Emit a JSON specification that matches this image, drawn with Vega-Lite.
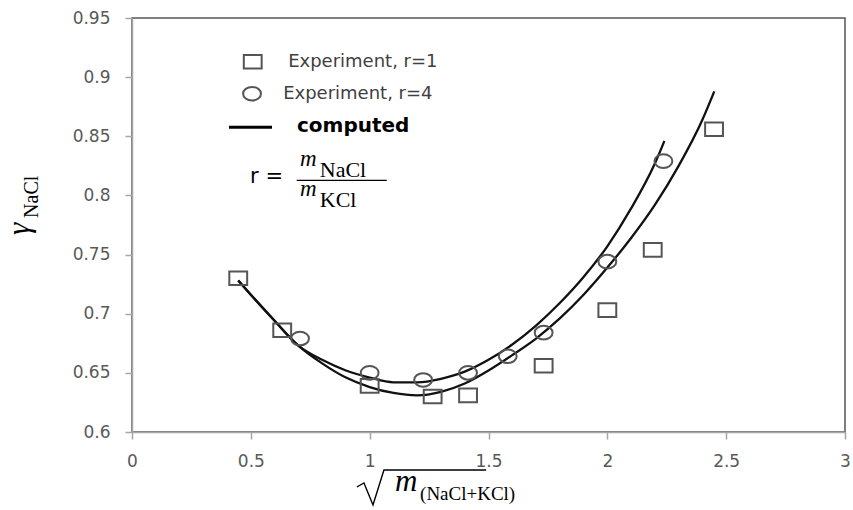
{
  "$schema": "https://vega.github.io/schema/vega-lite/v6.json",
  "width": 713,
  "height": 414,
  "autosize": {"type": "none"},
  "padding": {"left": 132, "top": 18, "right": 8, "bottom": 78},
  "background": "white",
  "config": {
    "view": {"stroke": "#555555", "strokeWidth": 1.5},
    "axis": {
      "grid": false,
      "domainColor": "#a6a6a6",
      "domainWidth": 1.5,
      "tickColor": "#a6a6a6",
      "tickWidth": 1.5,
      "tickSize": 7,
      "labelFont": "DejaVu Sans",
      "labelFontSize": 17,
      "labelColor": "#595959",
      "labelFlush": false
    }
  },
  "encoding": {
    "x": {
      "field": "x", "type": "quantitative",
      "scale": {"domain": [0, 3], "nice": false, "zero": false},
      "axis": {"title": null, "values": [0, 0.5, 1, 1.5, 2, 2.5, 3], "format": "~g", "labelPadding": 14, "labelFlush": false, "labelOverlap": false}
    },
    "y": {
      "field": "y", "type": "quantitative",
      "scale": {"domain": [0.6, 0.95], "nice": false, "zero": false},
      "axis": {"title": null, "values": [0.6, 0.65, 0.7, 0.75, 0.8, 0.85, 0.9, 0.95], "format": "~g", "labelPadding": 15}
    }
  },
  "layer": [
    {
      "data": {"values": [
        {"series": "r=1", "x": 0.447, "y": 0.728},
        {"series": "r=1", "x": 0.5, "y": 0.716},
        {"series": "r=1", "x": 0.6, "y": 0.694},
        {"series": "r=1", "x": 0.7, "y": 0.673},
        {"series": "r=1", "x": 0.8, "y": 0.658},
        {"series": "r=1", "x": 0.9, "y": 0.646},
        {"series": "r=1", "x": 1.0, "y": 0.638},
        {"series": "r=1", "x": 1.1, "y": 0.633},
        {"series": "r=1", "x": 1.2, "y": 0.631},
        {"series": "r=1", "x": 1.3, "y": 0.634},
        {"series": "r=1", "x": 1.4, "y": 0.641},
        {"series": "r=1", "x": 1.5, "y": 0.652},
        {"series": "r=1", "x": 1.6, "y": 0.665},
        {"series": "r=1", "x": 1.7, "y": 0.679},
        {"series": "r=1", "x": 1.8, "y": 0.696},
        {"series": "r=1", "x": 1.9, "y": 0.716},
        {"series": "r=1", "x": 2.0, "y": 0.739},
        {"series": "r=1", "x": 2.1, "y": 0.764},
        {"series": "r=1", "x": 2.2, "y": 0.792},
        {"series": "r=1", "x": 2.3, "y": 0.825},
        {"series": "r=1", "x": 2.4, "y": 0.864},
        {"series": "r=1", "x": 2.45, "y": 0.888},
        {"series": "r=4", "x": 0.447, "y": 0.728},
        {"series": "r=4", "x": 0.5, "y": 0.716},
        {"series": "r=4", "x": 0.6, "y": 0.694},
        {"series": "r=4", "x": 0.7, "y": 0.673},
        {"series": "r=4", "x": 0.8, "y": 0.661},
        {"series": "r=4", "x": 0.9, "y": 0.652},
        {"series": "r=4", "x": 1.0, "y": 0.646},
        {"series": "r=4", "x": 1.1, "y": 0.642},
        {"series": "r=4", "x": 1.2, "y": 0.642},
        {"series": "r=4", "x": 1.3, "y": 0.645},
        {"series": "r=4", "x": 1.4, "y": 0.651},
        {"series": "r=4", "x": 1.5, "y": 0.661},
        {"series": "r=4", "x": 1.6, "y": 0.674},
        {"series": "r=4", "x": 1.7, "y": 0.69},
        {"series": "r=4", "x": 1.8, "y": 0.709},
        {"series": "r=4", "x": 1.9, "y": 0.731},
        {"series": "r=4", "x": 2.0, "y": 0.757},
        {"series": "r=4", "x": 2.1, "y": 0.789},
        {"series": "r=4", "x": 2.2, "y": 0.827},
        {"series": "r=4", "x": 2.24, "y": 0.846}
      ]},
      "mark": {"type": "line", "color": "#111111", "strokeWidth": 2.3, "interpolate": "monotone"},
      "encoding": {"detail": {"field": "series"}}
    },
    {
      "data": {"values": [
        {"series": "r=1", "x": 0.447, "y": 0.73},
        {"series": "r=1", "x": 0.632, "y": 0.686},
        {"series": "r=1", "x": 1.0, "y": 0.639},
        {"series": "r=1", "x": 1.265, "y": 0.63},
        {"series": "r=1", "x": 1.414, "y": 0.631},
        {"series": "r=1", "x": 1.732, "y": 0.656},
        {"series": "r=1", "x": 2.0, "y": 0.703},
        {"series": "r=1", "x": 2.191, "y": 0.754},
        {"series": "r=1", "x": 2.449, "y": 0.856},
        {"series": "r=4", "x": 0.707, "y": 0.679},
        {"series": "r=4", "x": 1.0, "y": 0.65},
        {"series": "r=4", "x": 1.225, "y": 0.644},
        {"series": "r=4", "x": 1.414, "y": 0.65},
        {"series": "r=4", "x": 1.581, "y": 0.664},
        {"series": "r=4", "x": 1.732, "y": 0.684},
        {"series": "r=4", "x": 2.0, "y": 0.744},
        {"series": "r=4", "x": 2.236, "y": 0.829},
        {"series": "r=1", "x": 0.508, "y": 0.913},
        {"series": "r=4", "x": 0.505, "y": 0.886}
      ]},
      "mark": {"type": "point", "filled": false, "stroke": "#555555", "strokeWidth": 2, "size": 289, "opacity": 1},
      "encoding": {
        "shape": {
          "field": "series", "type": "nominal", "legend": null,
          "scale": {"domain": ["r=1", "r=4"], "range": ["M-1.05,-0.8L1.05,-0.8L1.05,0.8L-1.05,0.8Z", "M-1.05,0A1.05,0.8,0,1,0,1.05,0A1.05,0.8,0,1,0,-1.05,0Z"]}
        }
      }
    },
    {
      "data": {"values": [{"x": 0.408, "x2": 0.589, "y": 0.8576}]},
      "mark": {"type": "rule", "color": "#000000", "strokeWidth": 3},
      "encoding": {"x2": {"field": "x2"}}
    },
    {
      "data": {"values": [{"x": 0.693, "x2": 1.072, "y": 0.8128}]},
      "mark": {"type": "rule", "color": "#000000", "strokeWidth": 1.3},
      "encoding": {"x2": {"field": "x2"}}
    },
    {
      "data": {"values": [
        {"x": 0.946, "y": 0.5535},
        {"x": 0.976, "y": 0.5569},
        {"x": 1.014, "y": 0.5383},
        {"x": 1.06, "y": 0.5679},
        {"x": 1.49, "y": 0.5679}
      ]},
      "mark": {"type": "line", "color": "#000000", "strokeWidth": 1.4, "interpolate": "linear"},
      "encoding": {}
    },
    {
      "data": {"values": [
        {"x": 0.657, "y": 0.9128, "t": "Experiment, r=1"},
        {"x": 0.636, "y": 0.8857, "t": "Experiment, r=4"}
      ]},
      "mark": {"type": "text", "align": "left", "baseline": "middle", "font": "DejaVu Sans", "fontSize": 18, "color": "#404040"},
      "encoding": {"text": {"field": "t"}}
    },
    {
      "data": {"values": [{"x": 0.694, "y": 0.8587, "t": "computed"}]},
      "mark": {"type": "text", "align": "left", "baseline": "middle", "font": "DejaVu Sans", "fontWeight": "bold", "fontSize": 20, "color": "#000000"},
      "encoding": {"text": {"field": "t"}}
    },
    {
      "data": {"values": [{"x": 0.497, "y": 0.8156, "t": "r ="}]},
      "mark": {"type": "text", "align": "left", "baseline": "middle", "font": "DejaVu Sans", "fontSize": 21, "color": "#000000"},
      "encoding": {"text": {"field": "t"}}
    },
    {
      "data": {"values": [
        {"x": 0.707, "y": 0.825, "t": "m"},
        {"x": 0.707, "y": 0.7995, "t": "m"}
      ]},
      "mark": {"type": "text", "align": "left", "baseline": "alphabetic", "font": "Liberation Serif", "fontStyle": "italic", "fontSize": 23, "color": "#000000"},
      "encoding": {"text": {"field": "t"}}
    },
    {
      "data": {"values": [
        {"x": 0.79, "y": 0.8152, "t": "NaCl"},
        {"x": 0.79, "y": 0.7905, "t": "KCl"}
      ]},
      "mark": {"type": "text", "align": "left", "baseline": "alphabetic", "font": "Liberation Serif", "fontSize": 22, "color": "#000000"},
      "encoding": {"text": {"field": "t"}}
    },
    {
      "data": {"values": [{"x": 1.107, "y": 0.5501, "t": "m"}]},
      "mark": {"type": "text", "align": "left", "baseline": "alphabetic", "font": "Liberation Serif", "fontStyle": "italic", "fontSize": 31, "color": "#000000"},
      "encoding": {"text": {"field": "t"}}
    },
    {
      "data": {"values": [{"x": 1.212, "y": 0.5425, "t": "(NaCl+KCl)"}]},
      "mark": {"type": "text", "align": "left", "baseline": "alphabetic", "font": "Liberation Serif", "fontSize": 19, "color": "#000000"},
      "encoding": {"text": {"field": "t"}}
    },
    {
      "data": {"values": [{"x": -0.433, "y": 0.7666, "t": "γ"}]},
      "mark": {"type": "text", "align": "left", "baseline": "alphabetic", "angle": 270, "font": "Liberation Serif", "fontStyle": "italic", "fontSize": 31, "color": "#000000"},
      "encoding": {"text": {"field": "t"}}
    },
    {
      "data": {"values": [{"x": -0.397, "y": 0.781, "t": "NaCl"}]},
      "mark": {"type": "text", "align": "left", "baseline": "alphabetic", "angle": 270, "font": "Liberation Serif", "fontSize": 20, "color": "#000000"},
      "encoding": {"text": {"field": "t"}}
    }
  ]
}
